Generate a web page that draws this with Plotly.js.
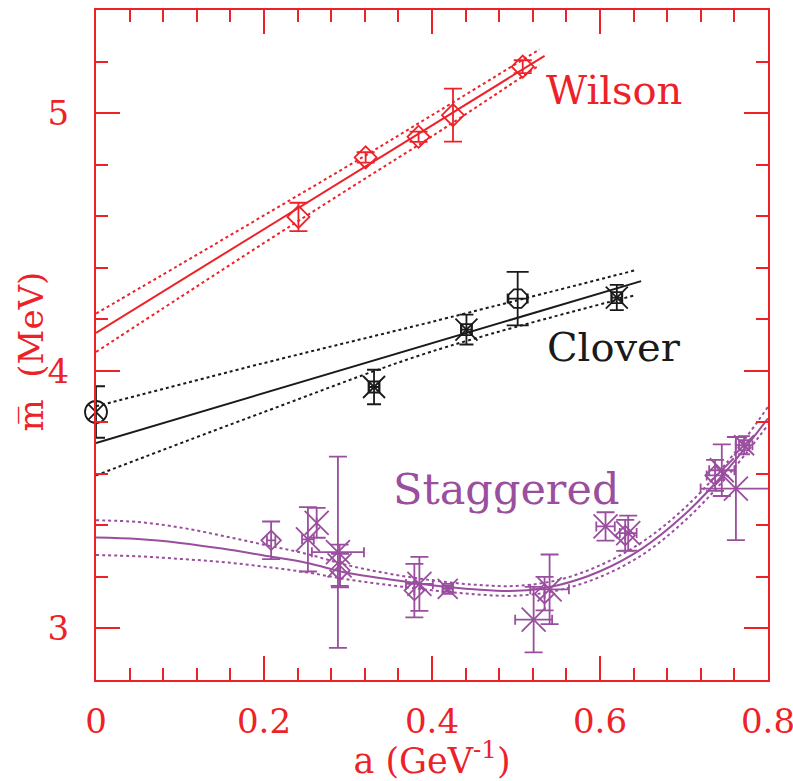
<!DOCTYPE html>
<html>
<head>
<meta charset="utf-8">
<script src="https://cdn.plot.ly/plotly-3.0.1.min.js"></script>
<style>html,body{margin:0;padding:0;background:#fff;}#chart{width:793px;height:781px;}</style>
</head>
<body>
<div id="chart"></div>
<script>
// ---------- Wilson ----------
const wilsonA = [0.241, 0.321, 0.384, 0.425, 0.508];
const wilsonM = [4.597, 4.828, 4.908, 4.992, 5.180];
const wilsonErr = [0.055, 0.02, 0.02, 0.103, 0.025];
const wilsonFitA = [0.0, 0.534];
const wilsonFitM = [4.147, 5.222];
const wilsonBandA = [0.0, 0.1, 0.2, 0.3, 0.4, 0.528];
const wilsonUpper = [4.222, 4.412, 4.603, 4.795, 4.992, 5.247];
const wilsonLower = [4.073, 4.285, 4.496, 4.704, 4.910, 5.186];

// ---------- Clover ----------
const cloverA0 = [0.0];
const cloverM0 = [3.84];
const cloverErr0 = [0.10];
const cloverSqA = [0.331, 0.441, 0.620];
const cloverSqM = [3.937, 4.160, 4.284];
const cloverSqErr = [0.067, 0.058, 0.049];
const cloverOctA = [0.502];
const cloverOctM = [4.280];
const cloverOctErr = [0.104];
const cloverFitA = [0.0, 0.649];
const cloverFitM = [3.72, 4.348];
const cloverBandA = [0.0, 0.2, 0.4, 0.642];
const cloverUpper = [3.862, 4.03, 4.19, 4.39];
const cloverLower = [3.594, 3.84, 4.075, 4.293];

// ---------- Staggered ----------
const stagDiaA = [0.2085, 0.2905, 0.379, 0.534, 0.630, 0.737];
const stagDiaM = [3.342, 3.225, 3.147, 3.135, 3.361, 3.594];
const stagDiaErr = [0.073, 0.065, 0.104, 0.065, 0.06, 0.06];
const stagDiaErrA = [0.005, 0.0, 0.0, 0.0, 0.0, 0.01];
const stagXA = [0.2523, 0.2627, 0.288, 0.290, 0.385, 0.540, 0.521, 0.6066, 0.6336, 0.745, 0.7618];
const stagXM = [3.346, 3.410, 3.296, 3.245, 3.173, 3.152, 3.034, 3.396, 3.370, 3.614, 3.543];
const stagXErr = [0.125, 0.058, 0.371, 0.08, 0.105, 0.135, 0.127, 0.055, 0.068, 0.10, 0.20];
const stagXErrA = [0.007, 0.0, 0.031, 0.0, 0.016, 0.023, 0.022, 0.011, 0.01, 0.015, 0.042];
const stagSqA = [0.4187, 0.7715];
const stagSqM = [3.154, 3.711];
const stagSqErr = [0.012, 0.035];
const stagSqErrA = [0.006, 0.01];
const stagFitA = [0, 0.05, 0.1, 0.15, 0.2, 0.25, 0.3, 0.35, 0.4, 0.45, 0.5, 0.55, 0.6, 0.65, 0.7, 0.75, 0.8];
const stagFitM = [3.353, 3.347, 3.332, 3.31, 3.283, 3.255, 3.215, 3.19, 3.168, 3.152, 3.146, 3.168, 3.222, 3.31, 3.44, 3.61, 3.815];
const stagUpper = [3.42, 3.413, 3.392, 3.36, 3.325, 3.29, 3.245, 3.212, 3.187, 3.17, 3.165, 3.188, 3.245, 3.335, 3.465, 3.64, 3.86];
const stagLower = [3.285, 3.28, 3.27, 3.258, 3.24, 3.218, 3.19, 3.168, 3.148, 3.133, 3.127, 3.148, 3.2, 3.285, 3.415, 3.585, 3.79];

// ---------- Labels ----------
const labelText = ['Wilson', 'Clover', 'Staggered'];
const labelA = [0.617, 0.617, 0.488];
const labelM = [5.089, 4.091, 3.54];
const xTitle = 'a (GeV<sup>-1</sup>)';
const yTitle = 'm\u0305\u00a0 (MeV)';

const RED = '#ed2228';
const BLK = '#1a1a1a';
const PUR = '#9a4e9e';
const FONT = 'DejaVu Serif, serif';

function line(x, y, color, dash, spline) {
  return {x: x, y: y, mode: 'lines', type: 'scatter', hoverinfo: 'skip',
    line: {color: color, width: 2, dash: dash || 'solid', shape: spline ? 'spline' : 'linear'}};
}
function pts(x, y, ey, ex, color, symbol, size, capw, clip) {
  const t = {x: x, y: y, mode: 'markers', type: 'scatter', cliponaxis: clip === false ? false : true,
    marker: {symbol: symbol, size: size, color: color, line: {color: color, width: 1.8}}};
  if (ey) t.error_y = {type: 'data', array: ey, visible: true, color: color, thickness: 1.8, width: capw};
  if (ex) t.error_x = {type: 'data', array: ex, visible: true, color: color, thickness: 1.8, width: 5};
  return t;
}

const traces = [
  line(wilsonFitA, wilsonFitM, RED),
  line(wilsonBandA, wilsonUpper, RED, 'dot', true),
  line(wilsonBandA, wilsonLower, RED, 'dot', true),
  pts(wilsonA, wilsonM, wilsonErr, null, RED, 'diamond-open', 17, 9),
  line(cloverFitA, cloverFitM, BLK),
  line(cloverBandA, cloverUpper, BLK, 'dot', true),
  line(cloverBandA, cloverLower, BLK, 'dot', true),
  pts(cloverA0, cloverM0, cloverErr0, null, BLK, 'circle-x-open', 22, 9, false),
  pts(cloverSqA, cloverSqM, cloverSqErr, [0.006, 0.006, 0.006], BLK, 'square-open', 11, 7),
  pts(cloverSqA, cloverSqM, null, null, BLK, 'x-thin-open', 22, 0),
  pts(cloverOctA, cloverOctM, cloverOctErr, [0.012], BLK, 'octagon-open', 20, 11),
  line(stagFitA, stagFitM, PUR, null, true),
  line(stagFitA, stagUpper, PUR, 'dot', true),
  line(stagFitA, stagLower, PUR, 'dot', true),
  pts(stagDiaA, stagDiaM, stagDiaErr, stagDiaErrA, PUR, 'diamond-open', 15, 9),
  pts(stagXA, stagXM, stagXErr, stagXErrA, PUR, 'x-thin-open', 24, 9),
  pts(stagSqA, stagSqM, stagSqErr, stagSqErrA, PUR, 'square-open', 10, 6),
  pts(stagSqA, stagSqM, null, null, PUR, 'x-thin-open', 20, 0)
];

const labelColors = [RED, BLK, PUR];
const labelSizes = [40, 40, 43];
const annotations = labelText.map((s, i) => ({
  x: labelA[i], y: labelM[i], xref: 'x', yref: 'y', text: s, showarrow: false,
  font: {family: FONT, size: labelSizes[i], color: labelColors[i]}
}));
annotations.push({
  x: -0.097, y: 0.49, xref: 'paper', yref: 'paper', text: yTitle, showarrow: false,
  textangle: -90, xanchor: 'center', yanchor: 'middle',
  font: {family: FONT, size: 34, color: RED}
});

const axisCommon = {
  showgrid: false, zeroline: false, showline: true, linecolor: RED, linewidth: 2,
  mirror: 'ticks', ticks: 'inside', ticklen: 24, tickwidth: 2, tickcolor: RED,
  ticklabeloverflow: 'allow',
  tickfont: {family: FONT, size: 34, color: RED}
};

const layout = {
  width: 793, height: 781,
  margin: {l: 96, r: 25, t: 10, b: 101},
  paper_bgcolor: '#fff', plot_bgcolor: '#fff',
  showlegend: false,
  xaxis: Object.assign({}, axisCommon, {
    range: [0, 0.8], tick0: 0, dtick: 0.2,
    minor: {dtick: 0.04, ticks: 'inside', ticklen: 12, tickwidth: 2, tickcolor: RED, showgrid: false},
    ticklabelstandoff: 10,
    title: {text: xTitle, font: {family: FONT, size: 35, color: RED}, standoff: 4}
  }),
  yaxis: Object.assign({}, axisCommon, {
    range: [2.8, 5.4], tick0: 0, dtick: 1,
    minor: {dtick: 0.2, ticks: 'inside', ticklen: 12, tickwidth: 2, tickcolor: RED, showgrid: false},
    ticklabelstandoff: 18
  }),
  annotations: annotations
};

Plotly.newPlot('chart', traces, layout, {displayModeBar: false, staticPlot: true});
</script>
</body>
</html>
